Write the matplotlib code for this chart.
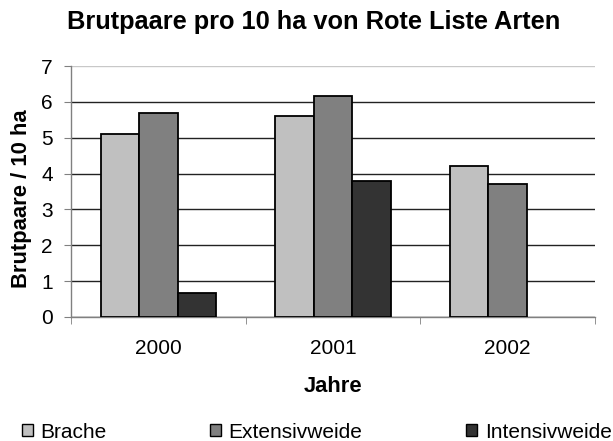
import numpy as np
import matplotlib.pyplot as plt
from matplotlib.patches import Patch

plt.rcParams['font.family'] = ['Liberation Sans', 'DejaVu Sans']

# Daten aus dem Diagramm
jahre = ['2000', '2001', '2002']
brache = [5.1, 5.6, 4.2]
extensivweide = [5.7, 6.15, 3.7]
intensivweide = [0.67, 3.8, 0]

serien = [('Brache', brache, '#C0C0C0'),
          ('Extensivweide', extensivweide, '#808080'),
          ('Intensivweide', intensivweide, '#333333')]

W, H = 613, 441
fig = plt.figure(figsize=(6.13, 4.41), dpi=100)
ax = fig.add_axes([71 / W, 1 - 317 / H, 524 / W, 251 / H])

x = np.arange(len(jahre))
breite = 0.22
for i, (name, werte, farbe) in enumerate(serien):
    pos = x + (i - 1) * breite
    for p, w in zip(pos, werte):
        if w > 0:
            ax.bar(p, w, width=breite, color=farbe, edgecolor='black', linewidth=1.3, zorder=3)

ax.set_xlim(-0.5, 2.5)
ax.set_ylim(0, 7)
ax.set_yticks(range(0, 8))
ax.set_xticks(x)
ax.set_xticklabels(jahre)
ax.set_xticks([-0.5, 0.5, 1.5, 2.5], minor=True)
ax.tick_params(axis='x', which='major', length=0, pad=16, labelsize=15)
ax.tick_params(axis='x', which='minor', length=5, color='#808080')
ax.tick_params(axis='y', length=5, color='#808080', labelsize=15, pad=8)

ax.yaxis.grid(True, color='#222222', linewidth=1, zorder=0)
ax.get_ygridlines()[-1].set_color('#c8c8c8')
for s in ['top', 'right']:
    ax.spines[s].set_visible(False)
for s in ['left', 'bottom']:
    ax.spines[s].set_color('#808080')
    ax.spines[s].set_linewidth(1)

fig.text(313.5 / W, 1 - 22 / H, 'Brutpaare pro 10 ha von Rote Liste Arten', fontsize=18.3,
         fontweight='bold', ha='center', va='center')
fig.text(22 / W, 1 - 198.5 / H, 'Brutpaare / 10 ha', fontsize=15.8, fontweight='bold',
         rotation=90, ha='center', va='center')
fig.text(333 / W, 1 - 386 / H, 'Jahre', fontsize=15.8, fontweight='bold',
         ha='center', va='center')

# Legende unten, drei Eintraege
legend_x = [22, 210, 466]
for (name, werte, farbe), lx in zip(serien, legend_x):
    h = Patch(facecolor=farbe, edgecolor='black', linewidth=1)
    fig.legend(handles=[h], labels=[name], loc='center left', bbox_to_anchor=(lx / W, 1 - 432 / H),
               frameon=False, fontsize=15, handlelength=0.55, handleheight=0.55,
               handletextpad=0.35, borderpad=0, borderaxespad=0)

fig.savefig('out.png', dpi=100)
